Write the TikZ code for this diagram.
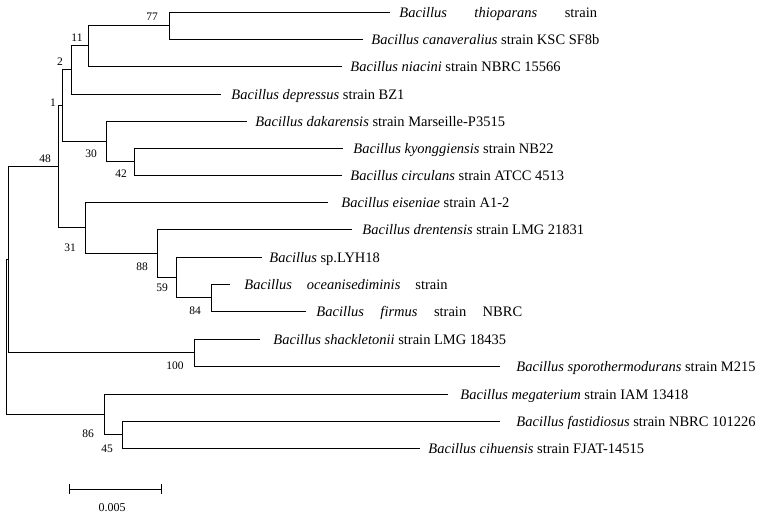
\documentclass[tikz,border=0pt]{standalone}
\usepackage{fontspec}
\setmainfont{Liberation Serif}
\begin{document}
\begin{tikzpicture}[x=1pt,y=-1pt,line width=0.9pt,
        leaf/.style={anchor=base west,inner sep=0pt,font=\fontsize{14.5}{16}\selectfont},
        boot/.style={inner sep=0pt,font=\fontsize{11.5}{12}\selectfont}]
        \useasboundingbox (0,0) rectangle (762,520);
        \foreach \n/\x/\y/\lx/\t in {
            thio/390/12/399/{\textit{Bacillus}\hspace{27.5pt}\textit{thioparans}\hspace{27.5pt}strain},
            cana/363/39/371/{\textit{Bacillus canaveralius} strain KSC SF8b},
            niac/342/66/350/{\textit{Bacillus niacini} strain NBRC 15566},
            depr/221/94/231/{\textit{Bacillus depressus} strain BZ1},
            daka/247/121/255/{\textit{Bacillus dakarensis} strain Marseille-P3515},
            kyon/343/148/353/{\textit{Bacillus kyonggiensis} strain NB22},
            circ/342/175/350/{\textit{Bacillus circulans} strain ATCC 4513},
            eise/328/202/341/{\textit{Bacillus eiseniae} strain A1-2},
            dren/352/229/362/{\textit{Bacillus drentensis} strain LMG 21831},
            lyh/262/257/269/{\textit{Bacillus} sp.LYH18},
            ocea/230/284/244/{\textit{Bacillus}\hspace{15pt}\textit{oceanisediminis}\hspace{15pt}strain},
            firm/306/311/316/{\textit{Bacillus}\hspace{16.5pt}\textit{firmus}\hspace{16.5pt}strain\hspace{16.5pt}NBRC},
            shac/260/339/273/{\textit{Bacillus shackletonii} strain LMG 18435},
            spor/500/366/516/{\textit{Bacillus sporothermodurans} strain M215},
            mega/448/394/460/{\textit{Bacillus megaterium} strain IAM 13418},
            fast/500/421/516/{\textit{Bacillus fastidiosus} strain NBRC 101226},
            cihu/420/448/428/{\textit{Bacillus cihuensis} strain FJAT-14515}} {
                \coordinate (\n) at (\x,\y);
                \node[leaf] (\n-lab) at (\lx,\y+5.3) {\t};
            }
        \foreach \n/\x/\y in {n77/169/25.5, n11/88/45.75, n2/71/69.9, n42/134/161.5,
            n30/106/141.25, n1/62/105.6, n84/211/297.5, n59/176/277.25, n88/157/253.1,
            n31/85/227.6, n48/58/166.6, n100/194/352.5, nin/8.5/259.5, n45/122/434.5,
            n86/104/414, root/6.5/336.75} {
                \coordinate (\n) at (\x,\y);
            }
        \foreach \p/\c in {n77/thio, n77/cana, n11/n77, n11/niac, n2/n11, n2/depr,
            n42/kyon, n42/circ, n30/daka, n30/n42, n1/n2, n1/n30,
            n84/ocea, n84/firm, n59/lyh, n59/n84, n88/dren, n88/n59,
            n31/eise, n31/n88, n48/n1, n48/n31, n100/shac, n100/spor,
            nin/n48, nin/n100, n45/fast, n45/cihu, n86/mega, n86/n45,
            root/nin, root/n86} {
                \draw (\p) |- (\c);
            }
        \foreach \b/\x/\y in {77/152/17, 11/77/38, 2/60/62, 1/53/103, 48/45/159,
            30/91/154, 42/121/174, 31/70/248, 88/142/267, 59/162/288,
            84/195/311, 100/175/366, 86/88/434, 45/107/449} {
                \node[boot] (b\b) at (\x,\y) {\b};
            }
        \coordinate (sbl) at (69,489);
        \coordinate (sbr) at (161,489);
        \draw (sbl) -- (sbr);
        \draw (sbl) ++(0,-5) -- ++(0,10);
        \draw (sbr) ++(0,-5) -- ++(0,10);
        \node[boot,font=\fontsize{12}{13}\selectfont] (sblab) at (112,508) {0.005};
\end{tikzpicture}
\end{document}
